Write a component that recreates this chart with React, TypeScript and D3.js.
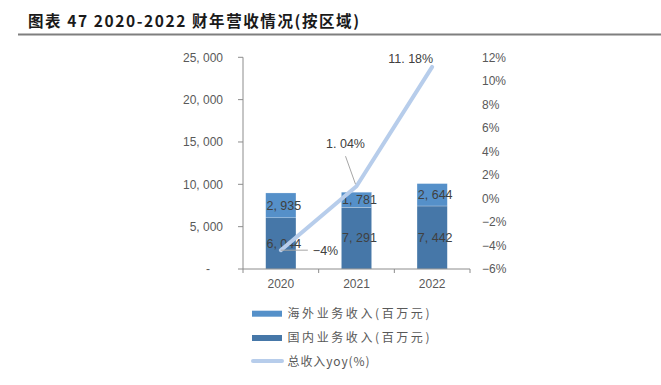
import React from "react";
import * as d3 from "d3";

const years = ["2020", "2021", "2022"];
const overseas = [2935, 1781, 2644];
const domestic = [6044, 7291, 7442];
const yoy = [-4.4, 1.04, 11.18];
const yoyLabels = ["−4%", "1. 04%", "11. 18%"];
const leftTicks = [0, 5000, 10000, 15000, 20000, 25000];
const rightTicks = [-6, -4, -2, 0, 2, 4, 6, 8, 10, 12];
const legendLabels = ["海外业务收入(百万元)", "国内业务收入(百万元)", "总收入yoy(%)"];
const title = "图表 47 2020-2022 财年营收情况(按区域)";

const W = 661, H = 385;
const plotL = 243, plotR = 470, plotT = 57.3, plotB = 269;
const cOver = "#5590C9";
const cDom = "#4677A8";
const cLine = "#B7CDEB";
const axisColor = "#8C8C8C";
const textColor = "#595959";
const labelColor = "#404040";
const numFont = "'Liberation Sans', Arial, sans-serif";
const cjkFont = "'Noto Sans CJK SC', sans-serif";

export default function App() {
  const x = d3.scaleBand<string>().domain(years).range([plotL, plotR]).padding(0);
  const yL = d3.scaleLinear().domain([0, 25000]).range([plotB, plotT]);
  const yR = d3.scaleLinear().domain([-6, 12]).range([plotB, plotT]);
  const bw = x.bandwidth();
  const barW = bw * 0.4;
  const fmt = (v: number) => d3.format(",")(v).replace(",", ", ");
  const cx = (i: number) => (x(years[i]) as number) + bw / 2;

  const line = d3
    .line<number>()
    .x((_, i) => cx(i))
    .y((d) => yR(d));

  const pts = yoy.map((v, i) => [cx(i), yR(v)]);

  return (
    <svg width={W} height={H} style={{ position: "absolute", left: 0, top: 0 }}>
      <rect width={W} height={H} fill="#fff" />
      {/* title */}
      <text x={28} y={26.5} fontFamily={cjkFont} fontWeight={700} fontSize={15.5} fill="#1a1a1a"
        textLength={331} lengthAdjust="spacing">{title}</text>
      <line x1={18} x2={661} y1={34.5} y2={34.5} stroke="#7F7F7F" strokeWidth={2} />

      {/* bars */}
      {years.map((yr, i) => {
        const x0 = cx(i) - barW / 2;
        const yDomTop = yL(domestic[i]);
        const yTop = yL(domestic[i] + overseas[i]);
        return (
          <g key={yr}>
            <rect x={x0} y={yDomTop} width={barW} height={plotB - yDomTop} fill={cDom} stroke="#fff" strokeWidth={0.4} strokeOpacity={0.6} />
            <rect x={x0} y={yTop} width={barW} height={yDomTop - yTop} fill={cOver} stroke="#fff" strokeWidth={0.4} strokeOpacity={0.6} />
            <text x={cx(i) + 3} y={(yTop + yDomTop) / 2 + 4.3} textAnchor="middle" fontFamily={numFont} fontSize={12.5} fill={labelColor}>{fmt(overseas[i])}</text>
            <text x={cx(i) + 3} y={(yDomTop + plotB) / 2 + 4.3} textAnchor="middle" fontFamily={numFont} fontSize={12.5} fill={labelColor}>{fmt(domestic[i])}</text>
          </g>
        );
      })}

      {/* left axis */}
      <line x1={plotL} x2={plotL} y1={plotT} y2={plotB} stroke={axisColor} strokeWidth={1} />
      {leftTicks.map((t) => (
        <g key={t}>
          <line x1={plotL - 5} x2={plotL} y1={yL(t)} y2={yL(t)} stroke={axisColor} />
          <text x={t === 0 ? 210 : 223} y={yL(t) + 4.2} textAnchor="end" fontFamily={numFont} fontSize={12} fill={textColor}>
            {t === 0 ? "-" : fmt(t)}
          </text>
        </g>
      ))}

      {/* x axis */}
      <line x1={plotL} x2={plotR} y1={plotB} y2={plotB} stroke={axisColor} strokeWidth={1} />
      {years.map((yr, i) => (
        <g key={yr}>
          <line x1={x(yr) as number} x2={x(yr) as number} y1={plotB} y2={plotB + 4} stroke={axisColor} />
          <text x={cx(i)} y={plotB + 19} textAnchor="middle" fontFamily={numFont} fontSize={12} fill={textColor}>{yr}</text>
        </g>
      ))}
      <line x1={plotR} x2={plotR} y1={plotB} y2={plotB + 4} stroke={axisColor} />

      {/* right axis labels */}
      {rightTicks.map((t) => (
        <text key={t} x={482} y={yR(t) + 4.2} fontFamily={numFont} fontSize={12} fill={textColor}>
          {(t < 0 ? "−" + Math.abs(t) : String(t)) + "%"}
        </text>
      ))}

      {/* yoy line */}
      <path d={line(yoy) || ""} fill="none" stroke={cLine} strokeWidth={4} strokeLinejoin="round" strokeLinecap="round" />

      {/* yoy labels */}
      <line x1={pts[0][0]} x2={pts[0][0] + 27} y1={pts[0][1]} y2={pts[0][1]} stroke="#A6A6A6" strokeWidth={1} />
      <text x={pts[0][0] + 32} y={pts[0][1] + 4.5} fontFamily={numFont} fontSize={12.5} fill={labelColor}>{yoyLabels[0]}</text>

      <line x1={pts[1][0] - 11} x2={pts[1][0] - 1} y1={pts[1][1] - 30} y2={pts[1][1] - 2} stroke="#A6A6A6" strokeWidth={1} />
      <text x={pts[1][0] - 11} y={pts[1][1] - 38} textAnchor="middle" fontFamily={numFont} fontSize={12.5} fill={labelColor}>{yoyLabels[1]}</text>

      <text x={pts[2][0] + 1} y={pts[2][1] - 4.3} textAnchor="end" fontFamily={numFont} fontSize={12.5} fill={labelColor}>{yoyLabels[2]}</text>

      {/* legend */}
      <rect x={252} y={310.7} width={30} height={6} fill={cOver} />
      <text x={287.5} y={318} fontFamily={cjkFont} fontSize={12} fill={textColor} textLength={142} lengthAdjust="spacing">{legendLabels[0]}</text>
      <rect x={252} y={335} width={30} height={6} fill={cDom} />
      <text x={287.5} y={342.3} fontFamily={cjkFont} fontSize={12} fill={textColor} textLength={142} lengthAdjust="spacing">{legendLabels[1]}</text>
      <line x1={253} x2={282} y1={361} y2={361} stroke={cLine} strokeWidth={4} strokeLinecap="round" />
      <text x={287.5} y={365.5} fontFamily={cjkFont} fontSize={12} fill={textColor} textLength={82} lengthAdjust="spacing">{legendLabels[2]}</text>
    </svg>
  );
}
